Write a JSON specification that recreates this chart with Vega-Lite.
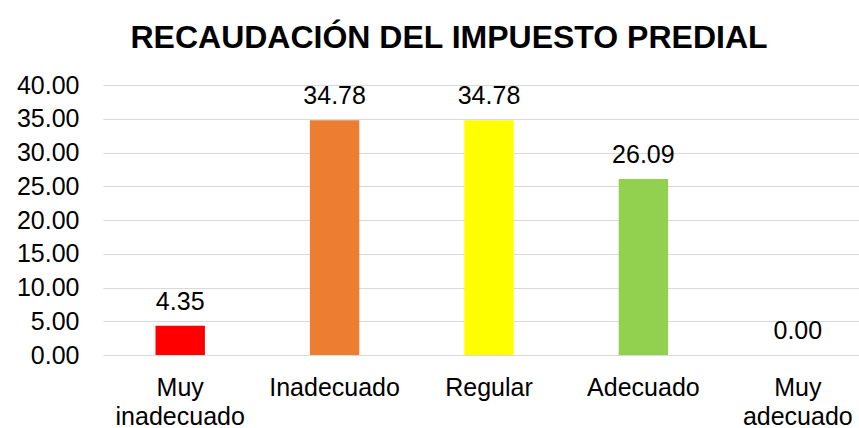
{
  "$schema": "https://vega.github.io/schema/vega-lite/v6.json",
  "width": 756,
  "height": 270,
  "autosize": {"type": "none"},
  "padding": {"left": 103, "top": 85, "right": 0, "bottom": 73},
  "background": "white",
  "title": {"text": "RECAUDACIÓN DEL IMPUESTO PREDIAL", "font": "Liberation Sans", "fontSize": 32, "fontWeight": "bold", "color": "#000000", "anchor": "middle", "dx": -32, "offset": 18},
  "config": {"view": {"stroke": null}},
  "data": {"values": [
    {"cat": "Muy inadecuado", "val": 4.35, "color": "#FF0000"},
    {"cat": "Inadecuado", "val": 34.78, "color": "#ED7D31"},
    {"cat": "Regular", "val": 34.78, "color": "#FFFF00"},
    {"cat": "Adecuado", "val": 26.09, "color": "#92D050"},
    {"cat": "Muy adecuado", "val": 0, "color": "#FFFFFF"}
  ]},
  "encoding": {
    "x": {"field": "cat", "type": "nominal", "sort": null,
      "scale": {"range": [0, 772], "paddingInner": 0.68, "paddingOuter": 0.34},
      "axis": {"title": null, "labelAngle": 0, "domain": false, "ticks": false, "tickSize": 0, "labelPadding": 20,
        "labelFont": "Liberation Sans", "labelFontSize": 25, "labelColor": "#000000", "labelLineHeight": 29, "labelBaseline": "top",
        "labelExpr": "split(datum.label, ' ')"}},
    "y": {"field": "val", "type": "quantitative",
      "scale": {"domain": [0, 40], "nice": false},
      "axis": {"title": null, "values": [0,5,10,15,20,25,30,35,40], "format": ".2f", "domain": false, "ticks": false, "tickSize": 0, "labelPadding": 24,
        "labelFont": "Liberation Sans", "labelFontSize": 25, "labelColor": "#000000", "gridColor": "#D9D9D9", "gridWidth": 1}}
  },
  "layer": [
    {"mark": {"type": "bar"}, "encoding": {"color": {"field": "color", "type": "nominal", "scale": null}}},
    {"mark": {"type": "text", "baseline": "alphabetic", "dy": -16, "font": "Liberation Sans", "fontSize": 25, "color": "#000000"},
      "encoding": {"text": {"field": "val", "type": "quantitative", "format": ".2f"}}}
  ]
}
